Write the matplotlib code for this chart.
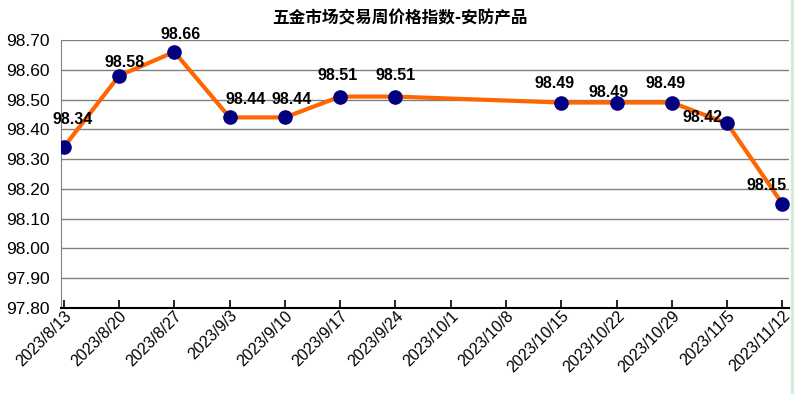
import numpy as np
import matplotlib.pyplot as plt
import matplotlib.transforms as mtransforms
from matplotlib.patches import Rectangle

plt.rcParams['font.family'] = ['Liberation Sans', 'Noto Sans CJK SC', 'DejaVu Sans']

# dữ liệu
dates = ['2023/8/13', '2023/8/20', '2023/8/27', '2023/9/3', '2023/9/10', '2023/9/17', '2023/9/24',
         '2023/10/1', '2023/10/8', '2023/10/15', '2023/10/22', '2023/10/29', '2023/11/5', '2023/11/12']
values = [98.34, 98.58, 98.66, 98.44, 98.44, 98.51, 98.51,
          np.nan, np.nan, 98.49, 98.49, 98.49, 98.42, 98.15]
yticks = [97.80, 97.90, 98.00, 98.10, 98.20, 98.30, 98.40, 98.50, 98.60, 98.70]
title = '五金市场交易周价格指数-安防产品'

# vị trí nhãn (pixel) so với điểm
label_offsets = [(9, 28), (6, 13), (6, 17), (16, 18), (7, 18), (-3, 21), (0, 21),
                 None, None, (-7, 19), (-8, 10), (-6, 19), (-25, 6), (-16, 18)]

fig = plt.figure(figsize=(7.94, 3.94), dpi=100)
ax = fig.add_axes([61/794, 1 - 308/394, (789-61)/794, (308-40)/394])

x = np.arange(len(dates))
y = np.array(values)
m = ~np.isnan(y)
ax.plot(x[m], y[m], color='#FF6600', lw=3, marker='o', ms=9.5,
        mfc='#000080', mec='#000080', zorder=3)

for xi, yi, off in zip(x, y, label_offsets):
    if np.isnan(yi):
        continue
    ax.annotate(f'{yi:.2f}', (xi, yi), xytext=off, textcoords='offset pixels',
                ha='center', va='center', fontsize=11.5, fontweight='bold', zorder=4)

ax.set_ylim(97.80, 98.70)
ax.set_yticks(yticks)
ax.set_yticklabels([f'{v:.2f}' for v in yticks], fontsize=12.5)
ax.set_xlim(-0.05, 13.12)
ax.set_xticks(x)
ax.set_xticklabels(dates, fontsize=11.5, rotation=45, ha='right', va='top',
                   rotation_mode='anchor')
off = mtransforms.ScaledTranslation(10/100, -16/100, fig.dpi_scale_trans)
for lab in ax.get_xticklabels():
    lab.set_transform(lab.get_transform() + off)

ax.yaxis.grid(True, color='#808080', lw=1)
ax.set_axisbelow(True)
ax.tick_params(axis='y', length=0, pad=8)
ax.tick_params(axis='x', direction='in', length=6, width=1.2, color='black', pad=0)
for s in ['top', 'right']:
    ax.spines[s].set_visible(False)
ax.spines['left'].set_color('#808080')
ax.spines['bottom'].set_color('black')
ax.spines['bottom'].set_linewidth(1.5)

fig.text(400/794, 1 - 18/394, title, ha='center', va='center', fontsize=12,
         fontweight='bold', family=['Noto Sans CJK SC', 'DejaVu Sans'])
fig.patches.append(Rectangle((791/794, 0), 3/794, 1, transform=fig.transFigure,
                             color='#d5ecd8', zorder=0))

fig.savefig('out.png', dpi=100)
